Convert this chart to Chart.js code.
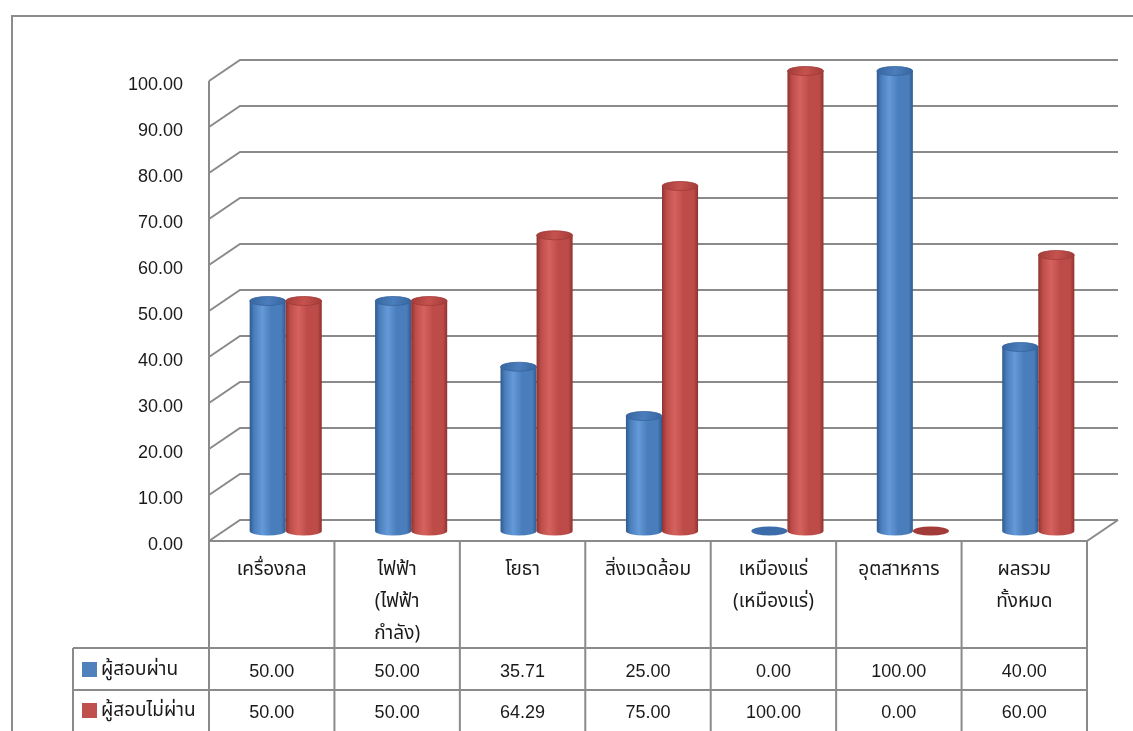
<!DOCTYPE html>
<html>
<head>
<meta charset="utf-8">
<script src="https://cdn.jsdelivr.net/npm/chart.js@4.4.1/dist/chart.umd.min.js"></script>
<style>
  html, body { margin: 0; padding: 0; background: #fff; overflow: hidden; }
  #wrap { position: absolute; left: 0; top: 0; width: 1133px; height: 731px; }
</style>
</head>
<body>
<div id="wrap"><canvas id="c" width="1133" height="731"></canvas></div>
<script>
// Categories (header lines as drawn in the data table)
const categories = [
  ['เครื่องกล'],
  ['ไฟฟ้า', '(ไฟฟ้า', 'กำลัง)'],
  ['โยธา'],
  ['สิ่งแวดล้อม'],
  ['เหมืองแร่', '(เหมืองแร่)'],
  ['อุตสาหการ'],
  ['ผลรวม', 'ทั้งหมด']
];
const seriesNames = ['ผู้สอบผ่าน', 'ผู้สอบไม่ผ่าน'];
const passed = [50.00, 50.00, 35.71, 25.00, 0.00, 100.00, 40.00];
const failed = [50.00, 50.00, 64.29, 75.00, 100.00, 0.00, 60.00];
const yMin = 0, yMax = 100, yStep = 10;

const seriesColors = ['#4F81BD', '#C0504D'];
const cylinderShades = [
  { edge: '#2E5A8F', light: '#649AD9', mid: '#4A7DBB', top: '#4B7EBC', rim: '#36659F', flat: '#3C6DAA' },
  { edge: '#8F3230', light: '#D6625E', mid: '#BD4C49', top: '#C6524E', rim: '#A13B38', flat: '#A33C39' }
];

const DX = 31, DY = -21;          // depth of the 3D box
const BDX = 14, BDY = -10;        // bars stand half-way in
const GRID = '#8a8a8a';
const NUM_FONT = '18px "Liberation Sans", Arial, sans-serif';
const THAI_FONT = '19px "Noto Sans Thai", "Noto Sans", sans-serif';

function line(ctx, pts) {
  ctx.beginPath();
  ctx.moveTo(pts[0][0], pts[0][1]);
  for (let i = 1; i < pts.length; i++) ctx.lineTo(pts[i][0], pts[i][1]);
  ctx.stroke();
}

function drawCylinder(ctx, cx, top, base, w, s) {
  const rx = w / 2, ry = 4.5, left = cx - rx;
  if (base - top < 0.5) {
    ctx.beginPath();
    ctx.ellipse(cx, base, rx, ry, 0, 0, Math.PI * 2);
    ctx.fillStyle = s.flat;
    ctx.fill();
    return;
  }
  const g = ctx.createLinearGradient(left, 0, left + w, 0);
  g.addColorStop(0, s.edge);
  g.addColorStop(0.12, s.mid);
  g.addColorStop(0.35, s.light);
  g.addColorStop(0.6, s.mid);
  g.addColorStop(0.88, s.mid);
  g.addColorStop(1, s.edge);
  ctx.beginPath();
  ctx.moveTo(left, top);
  ctx.lineTo(left, base);
  ctx.ellipse(cx, base, rx, ry, 0, Math.PI, 0, true);
  ctx.lineTo(left + w, top);
  ctx.closePath();
  ctx.fillStyle = g;
  ctx.fill();
  // lid
  const tg = ctx.createLinearGradient(left, top - ry, left + w, top + ry);
  tg.addColorStop(0, s.rim);
  tg.addColorStop(0.5, s.top);
  tg.addColorStop(1, s.rim);
  ctx.beginPath();
  ctx.ellipse(cx, top, rx, ry, 0, 0, Math.PI * 2);
  ctx.fillStyle = tg;
  ctx.fill();
  ctx.strokeStyle = s.rim;
  ctx.lineWidth = 0.8;
  ctx.stroke();
}

const boxPlugin = {
  id: 'box3d',
  beforeDraw(chart) {
    const ctx = chart.ctx;
    ctx.save();
    ctx.fillStyle = '#fff';
    ctx.fillRect(0, 0, chart.width, chart.height);
    ctx.strokeStyle = '#8c8c8c';
    ctx.lineWidth = 2;
    line(ctx, [[12, chart.height + 5], [12, 16], [chart.width + 5, 16]]);
    ctx.restore();
  },
  beforeDatasetsDraw(chart) {
    const ctx = chart.ctx, a = chart.chartArea, y = chart.scales.y;
    ctx.save();
    ctx.strokeStyle = GRID;
    ctx.lineWidth = 2;
    ctx.lineJoin = 'miter';
    y.ticks.forEach(t => {
      const py = y.getPixelForValue(t.value);
      line(ctx, [[a.left, py], [a.left + DX, py + DY], [a.right + DX, py + DY]]);
    });
    // floor
    line(ctx, [[a.left, a.bottom], [a.right, a.bottom], [a.right + DX, a.bottom + DY]]);
    // front axis line
    line(ctx, [[a.left, a.top], [a.left, a.bottom]]);
    ctx.restore();
  },
  beforeDatasetDraw() { return false; },
  afterDatasetsDraw(chart) {
    const ctx = chart.ctx;
    ctx.save();
    const metas = chart.data.datasets.map((d, i) => chart.getDatasetMeta(i));
    for (let j = 0; j < chart.data.labels.length; j++) {
      metas.forEach((m, i) => {
        const el = m.data[j];
        drawCylinder(ctx, el.x + BDX, el.y + BDY, el.base + BDY, el.width, cylinderShades[i]);
      });
    }
    ctx.restore();
  },
  afterDraw(chart) {
    const ctx = chart.ctx, a = chart.chartArea, xs = chart.scales.x;
    const n = chart.data.labels.length;
    const centers = [];
    for (let i = 0; i < n; i++) centers.push(xs.getPixelForValue(i));
    const bounds = [a.left];
    for (let i = 1; i < n; i++) bounds.push((centers[i - 1] + centers[i]) / 2);
    bounds.push(a.right);

    const headBottom = 648, row1Bottom = 690, legendLeft = 73, bottom = chart.height + 5;
    ctx.save();
    ctx.strokeStyle = GRID;
    ctx.lineWidth = 2;
    bounds.forEach(bx => line(ctx, [[bx, a.bottom], [bx, bottom]]));
    line(ctx, [[legendLeft, headBottom], [a.right, headBottom]]);
    line(ctx, [[legendLeft, row1Bottom], [a.right, row1Bottom]]);
    line(ctx, [[legendLeft, headBottom], [legendLeft, bottom]]);

    // category headers
    ctx.fillStyle = '#1a1a1a';
    ctx.textAlign = 'center';
    ctx.textBaseline = 'middle';
    ctx.font = THAI_FONT;
    chart.data.labels.forEach((lines, i) => {
      lines.forEach((txt, k) => ctx.fillText(txt, centers[i], a.bottom + 30 + k * 32));
    });

    // value rows + legend keys
    const rowY = [672, 713];
    chart.data.datasets.forEach((ds, r) => {
      ctx.font = NUM_FONT;
      ctx.textAlign = 'center';
      ctx.fillStyle = '#1a1a1a';
      ds.data.forEach((v, i) => ctx.fillText(v.toFixed(2), centers[i], rowY[r]));
      ctx.fillStyle = seriesColors[r];
      ctx.fillRect(82, rowY[r] - 10, 15, 15);
      ctx.fillStyle = '#1a1a1a';
      ctx.textAlign = 'left';
      ctx.font = THAI_FONT;
      ctx.fillText(ds.label, 101, rowY[r] - 1);
    });
    ctx.restore();
  }
};

new Chart(document.getElementById('c'), {
  type: 'bar',
  data: {
    labels: categories,
    datasets: [
      { label: seriesNames[0], data: passed, backgroundColor: seriesColors[0] },
      { label: seriesNames[1], data: failed, backgroundColor: seriesColors[1] }
    ]
  },
  options: {
    responsive: false,
    devicePixelRatio: 1,
    animation: false,
    layout: { padding: { left: 0, top: 81, right: 46, bottom: 190 } },
    categoryPercentage: 0.575,
    barPercentage: 1,
    plugins: { legend: { display: false }, tooltip: { enabled: false }, title: { display: false } },
    scales: {
      x: { display: false, offset: true },
      y: {
        min: yMin, max: yMax,
        grid: { display: false, drawTicks: false },
        border: { display: false },
        afterFit(scale) { scale.width = 209; },
        ticks: {
          stepSize: yStep,
          padding: 26,
          labelOffset: 4,
          color: '#1a1a1a',
          font: { family: '"Liberation Sans", Arial, sans-serif', size: 18 },
          callback: v => v.toFixed(2)
        }
      }
    }
  },
  plugins: [boxPlugin]
});
</script>
</body>
</html>
